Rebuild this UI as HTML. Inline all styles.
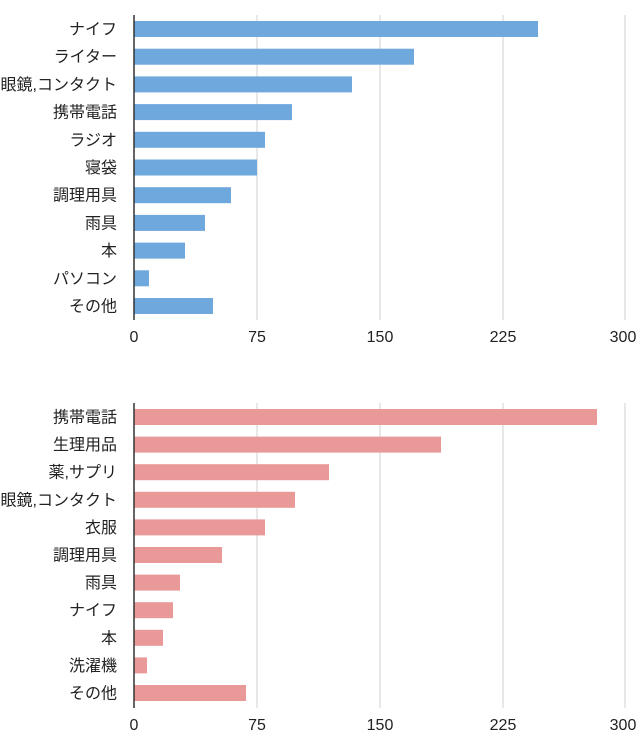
<!DOCTYPE html>
<html><head><meta charset="utf-8"><style>
html,body{margin:0;padding:0;background:#fff;width:640px;height:741px;overflow:hidden}
text{font-family:"Liberation Sans","Noto Sans CJK JP",sans-serif;fill:#222}
</style></head><body>
<svg width="640" height="741" xmlns="http://www.w3.org/2000/svg">
<g stroke="#d0d0d0" stroke-width="1">
<line x1="257" y1="15" x2="257" y2="320"/><line x1="380" y1="15" x2="380" y2="320"/><line x1="503" y1="15" x2="503" y2="320"/><line x1="625" y1="15" x2="625" y2="320"/>
<line x1="257" y1="403" x2="257" y2="708"/><line x1="380" y1="403" x2="380" y2="708"/><line x1="503" y1="403" x2="503" y2="708"/><line x1="625" y1="403" x2="625" y2="708"/>
</g>
<g fill="#6fa8dc">
<rect x="134" y="21" width="404" height="16"/>
<rect x="134" y="48.7" width="280" height="16"/>
<rect x="134" y="76.4" width="218" height="16"/>
<rect x="134" y="104.1" width="158" height="16"/>
<rect x="134" y="131.8" width="131" height="16"/>
<rect x="134" y="159.5" width="123" height="16"/>
<rect x="134" y="187.2" width="97" height="16"/>
<rect x="134" y="214.9" width="71" height="16"/>
<rect x="134" y="242.6" width="51" height="16"/>
<rect x="134" y="270.3" width="15" height="16"/>
<rect x="134" y="298" width="79" height="16"/>
</g>
<g fill="#ea9999">
<rect x="134" y="409" width="463" height="16"/>
<rect x="134" y="436.6" width="307" height="16"/>
<rect x="134" y="464.2" width="195" height="16"/>
<rect x="134" y="491.8" width="161" height="16"/>
<rect x="134" y="519.4" width="131" height="16"/>
<rect x="134" y="547" width="88" height="16"/>
<rect x="134" y="574.6" width="46" height="16"/>
<rect x="134" y="602.2" width="39" height="16"/>
<rect x="134" y="629.8" width="29" height="16"/>
<rect x="134" y="657.4" width="13" height="16"/>
<rect x="134" y="685" width="112" height="16"/>
</g>
<line x1="134" y1="15" x2="134" y2="320" stroke="#333" stroke-width="1.5"/>
<line x1="134" y1="403" x2="134" y2="708" stroke="#333" stroke-width="1.5"/>
<g font-size="16" text-anchor="end">
<text x="117" y="34.5">ナイフ</text>
<text x="117" y="62.2">ライター</text>
<text x="117" y="89.9">眼鏡,コンタクト</text>
<text x="117" y="117.6">携帯電話</text>
<text x="117" y="145.3">ラジオ</text>
<text x="117" y="173">寝袋</text>
<text x="117" y="200.7">調理用具</text>
<text x="117" y="228.4">雨具</text>
<text x="117" y="256.1">本</text>
<text x="117" y="283.8">パソコン</text>
<text x="117" y="311.5">その他</text>
<text x="117" y="422.5">携帯電話</text>
<text x="117" y="450.1">生理用品</text>
<text x="117" y="477.7">薬,サプリ</text>
<text x="117" y="505.3">眼鏡,コンタクト</text>
<text x="117" y="532.9">衣服</text>
<text x="117" y="560.5">調理用具</text>
<text x="117" y="588.1">雨具</text>
<text x="117" y="615.7">ナイフ</text>
<text x="117" y="643.3">本</text>
<text x="117" y="670.9">洗濯機</text>
<text x="117" y="698.5">その他</text>
</g>
<g font-size="16" text-anchor="middle">
<text x="134" y="342">0</text><text x="257" y="342">75</text><text x="380" y="342">150</text><text x="503" y="342">225</text><text x="623" y="342">300</text>
<text x="134" y="730">0</text><text x="257" y="730">75</text><text x="380" y="730">150</text><text x="503" y="730">225</text><text x="623" y="730">300</text>
</g>
</svg>
</body></html>
